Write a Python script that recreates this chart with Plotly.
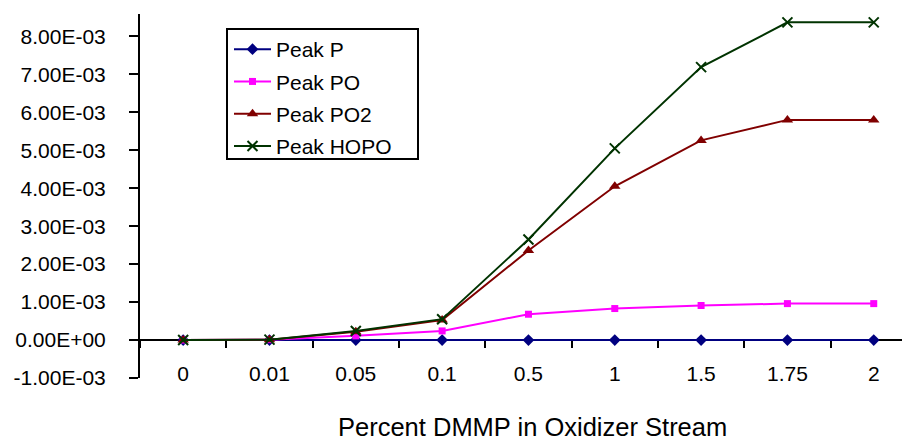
import plotly.graph_objects as go

categories = ["0", "0.01", "0.05", "0.1", "0.5", "1", "1.5", "1.75", "2"]
peak_p = [0.0, 0.0, 0.0, 0.0, 0.0, 0.0, 0.0, 0.0, 0.0]
peak_po = [0.0, 0.00001, 0.00011, 0.00024, 0.00068, 0.00083, 0.00091, 0.00096, 0.00096]
peak_po2 = [0.0, 0.00001, 0.00022, 0.00053, 0.00236, 0.00405, 0.00526, 0.00580, 0.00580]
peak_hopo = [0.0, 0.00001, 0.00024, 0.00055, 0.00265, 0.00505, 0.00719, 0.00837, 0.00837]
y_ticks = [-0.001, 0.0, 0.001, 0.002, 0.003, 0.004, 0.005, 0.006, 0.007, 0.008]
x_title = "Percent DMMP in Oxidizer Stream"

FONT = "Liberation Sans, Arial, sans-serif"
ymin, ymax = -0.001, 0.00859

# page body has an 8px default margin; compensate so the figure fills 910x438
OFF = 8
W, H = 910 - OFF, 438 - OFF
L, T = 140 - OFF, 14 - OFF
B = H - (378.3 - OFF)
plot_w = W - L
plot_h = H - T - B


def px_x(x):
    return (x - 140) / plot_w


def px_y(y):
    return (378.3 - y) / plot_h


fig = go.Figure()
series = [
    ("Peak P", peak_p, "#000080", dict(symbol="diamond", size=9)),
    ("Peak PO", peak_po, "#FF00FF", dict(symbol="square", size=7)),
    ("Peak PO2", peak_po2, "#800000", dict(symbol="triangle-up", size=10)),
    ("Peak HOPO", peak_hopo, "#003300", dict(symbol="x-thin", size=10, line=dict(width=2, color="#003300"))),
]
for i, (name, vals, col, mk) in enumerate(series):
    fig.add_trace(go.Scatter(
        x=categories, y=vals, name=name, mode="lines+markers",
        line=dict(color=col, width=2), marker=dict(color=col, **mk),
        legendgroup=f"g{i}",
    ))

fig.update_layout(
    width=W, height=H,
    margin=dict(l=L, r=0, t=T, b=B, pad=0),
    paper_bgcolor="white", plot_bgcolor="white",
    font=dict(family=FONT, size=21, color="black"),
    showlegend=True,
    legend=dict(
        x=px_x(229), y=px_y(29), xanchor="left", yanchor="top",
        borderwidth=0, bgcolor="rgba(0,0,0,0)",
        font=dict(family=FONT, size=21, color="black"),
        traceorder="grouped", tracegroupgap=2, itemwidth=37,
    ),
    shapes=[dict(
        type="rect", xref="paper", yref="paper", layer="above",
        x0=px_x(227), x1=px_x(418), y0=px_y(159), y1=px_y(29),
        line=dict(color="black", width=2), fillcolor="white",
    )],
    xaxis=dict(
        type="category", categoryorder="array", categoryarray=categories,
        range=[-0.5, 8.42], anchor="free", position=(0 - ymin) / (ymax - ymin),
        showline=True, linecolor="black", linewidth=2,
        ticks="outside", tickson="boundaries", ticklen=7, tickwidth=2, tickcolor="black",
        showgrid=False, zeroline=False, layer="below traces",
        ticklabelstandoff=15,
        tickfont=dict(family=FONT, size=21, color="black"),
    ),
    yaxis=dict(
        range=[ymin, ymax], tickvals=y_ticks,
        ticktext=[f"{v:.2E}" for v in y_ticks],
        showline=True, linecolor="black", linewidth=2,
        ticks="outside", ticklen=9, tickwidth=2, tickcolor="black",
        showgrid=False, zeroline=False, layer="below traces",
        ticklabelstandoff=19,
        tickfont=dict(family=FONT, size=21, color="black"),
    ),
    annotations=[dict(
        text=x_title, xref="paper", yref="paper",
        x=px_x(532), y=px_y(427),
        xanchor="center", yanchor="middle", showarrow=False,
        font=dict(family=FONT, size=25.5, color="black"),
    )],
)

fig.write_html("out.html")
